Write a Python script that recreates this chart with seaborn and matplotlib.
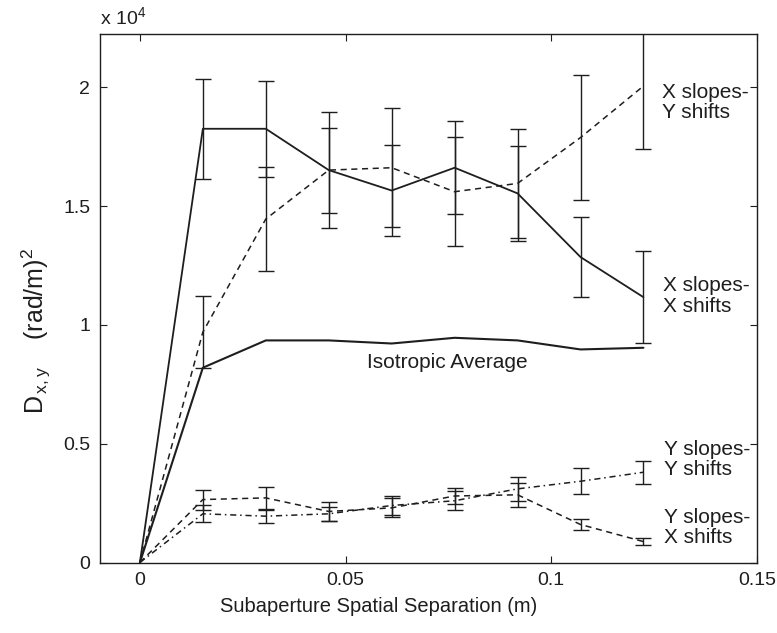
import numpy as np
import pandas as pd
import matplotlib
matplotlib.use("Agg")
import matplotlib.pyplot as plt
import seaborn as sns

# ---- data (units of 1e-4 (rad/m)^2) ----
separation = [0.0, 0.0153, 0.0306, 0.0459, 0.0612, 0.0765, 0.0918, 0.1071, 0.1224]
xslopes_xshifts = [0.0, 1.826, 1.826, 1.652, 1.566, 1.662, 1.554, 1.286, 1.117]
xslopes_xshifts_err = [0.0, 0.21, 0.203, 0.245, 0.19, 0.195, 0.20, 0.17, 0.194]
xslopes_yshifts = [0.0, 0.97, 1.446, 1.652, 1.662, 1.561, 1.596, 1.789, 2.006]
xslopes_yshifts_err = [0.0, 0.15, 0.219, 0.179, 0.25, 0.23, 0.23, 0.263, 0.267]
isotropic_avg = [0.0, 0.82, 0.935, 0.935, 0.922, 0.946, 0.935, 0.897, 0.904]
yslopes_yshifts = [0.0, 0.205, 0.195, 0.205, 0.24, 0.26, 0.31, 0.342, 0.38]
yslopes_yshifts_err = [0.0, 0.035, 0.028, 0.03, 0.04, 0.04, 0.05, 0.054, 0.048]
yslopes_xshifts = [0.0, 0.265, 0.272, 0.215, 0.23, 0.28, 0.285, 0.16, 0.088]
yslopes_xshifts_err = [0.0, 0.042, 0.046, 0.04, 0.04, 0.035, 0.05, 0.023, 0.014]

xticks = [0, 0.05, 0.1, 0.15]
xtick_labels = ["0", "0.05", "0.1", "0.15"]
yticks = [0, 0.5, 1, 1.5, 2]
ytick_labels = ["0", "0.5", "1", "1.5", "2"]

sns.set_theme(style="white")
plt.rcParams["font.family"] = ["Liberation Sans", "DejaVu Sans"]
plt.rcParams["mathtext.fontset"] = "custom"
plt.rcParams["mathtext.rm"] = "Liberation Sans"
plt.rcParams["mathtext.it"] = "Liberation Sans"

W, H = 777, 633
fig = plt.figure(figsize=(W / 100, H / 100), dpi=100)
ax = fig.add_axes([100 / W, 1 - 562.5 / H, 657 / W, 528.5 / H])

ink = "#1e1e1e"

df = pd.DataFrame({
    "x": separation,
    "XX": xslopes_xshifts,
    "XY": xslopes_yshifts,
    "ISO": isotropic_avg,
    "YY": yslopes_yshifts,
    "YX": yslopes_xshifts,
})

sns.lineplot(data=df, x="x", y="XX", ax=ax, color=ink, lw=1.3, estimator=None)
sns.lineplot(data=df, x="x", y="XY", ax=ax, color=ink, lw=1.1, estimator=None)
ax.lines[-1].set_dashes([4, 3])
sns.lineplot(data=df, x="x", y="ISO", ax=ax, color=ink, lw=1.5, estimator=None)
sns.lineplot(data=df, x="x", y="YY", ax=ax, color=ink, lw=1.1, estimator=None)
ax.lines[-1].set_dashes([4, 2.5, 1, 2.5])
sns.lineplot(data=df, x="x", y="YX", ax=ax, color=ink, lw=1.1, estimator=None)
ax.lines[-1].set_dashes([4, 3])

for vals, errs in [(xslopes_xshifts, xslopes_xshifts_err),
                   (xslopes_yshifts, xslopes_yshifts_err),
                   (yslopes_yshifts, yslopes_yshifts_err),
                   (yslopes_xshifts, yslopes_xshifts_err)]:
    ax.errorbar(separation[1:], vals[1:], yerr=errs[1:], fmt="none",
                ecolor=ink, elinewidth=1.0, capsize=5.5, capthick=1.0)

ax.set_xlim(-0.0097, 0.15)
ax.set_ylim(0, 2.225)
ax.set_xticks(xticks)
ax.set_xticklabels(xtick_labels)
ax.set_yticks(yticks)
ax.set_yticklabels(ytick_labels)
ax.tick_params(direction="in", length=5, width=0.8, colors=ink, labelsize=14,
               top=True, right=True, bottom=True, left=True, pad=7)
for s in ax.spines.values():
    s.set_color(ink)
    s.set_linewidth(1.0)

ax.set_xlabel("")
ax.set_ylabel("")
fig.text(379 / W, 1 - 607 / H, "Subaperture Spatial Separation (m)",
         fontsize=14.5, color=ink, ha="center", va="center")
fig.text(36 / W, 1 - 331 / H, r"D$_{\,\mathrm{x,y}}$    (rad/m)$^2$",
         fontsize=18, color=ink, ha="center", va="center", rotation=90)

ax.text(-0.0097, 2.25, r"x 10$^{4}$", fontsize=14, color=ink, ha="left", va="bottom")

tkw = dict(fontsize=15, color=ink, linespacing=1.12)
ax.text(0.1269, 1.937, "X slopes-\nY shifts", ha="left", va="center", **tkw)
ax.text(0.1271, 1.122, "X slopes-\nX shifts", ha="left", va="center", **tkw)
ax.text(0.0553, 0.842, "Isotropic Average", ha="left", va="center", **tkw)
ax.text(0.1273, 0.434, "Y slopes-\nY shifts", ha="left", va="center", **tkw)
ax.text(0.1275, 0.147, "Y slopes-\nX shifts", ha="left", va="center", **tkw)

ax.set_facecolor("white")
fig.patch.set_facecolor("white")
fig.savefig("out.png", dpi=100)
